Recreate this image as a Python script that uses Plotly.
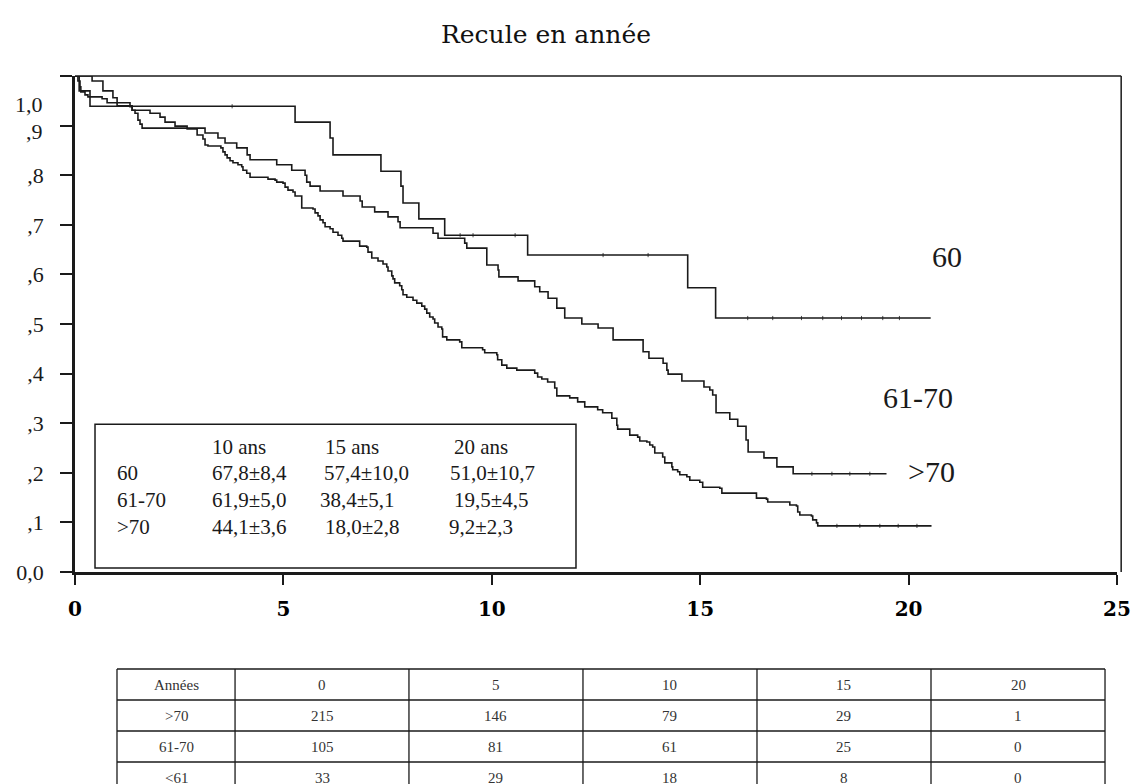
import plotly.graph_objects as go

# ---------------- data ----------------
# group "60" (<61 ans)
t_60 = [0.10, 0.36, 5.28, 6.12, 6.19, 7.34, 7.82, 7.87, 8.25, 8.87, 10.86, 14.70, 15.37]
s_60 = [0.970, 0.939, 0.907, 0.875, 0.841, 0.808, 0.778, 0.744, 0.712, 0.679, 0.639, 0.573, 0.512]
end_60 = 20.53
cens_60 = [3.77, 9.24, 9.55, 10.56, 12.67, 13.75, 16.14, 16.74, 17.43, 17.94, 18.39, 18.87, 19.38, 19.78]

# group "61-70"
t_6170 = [0.41, 0.67, 0.91, 1.01, 1.32, 1.37, 1.44, 1.51, 1.56, 1.61, 3.12, 3.43, 3.60, 3.88, 4.13,
          4.20, 4.84, 5.20, 5.52, 5.56, 5.64, 5.88, 6.43, 6.84, 6.89, 7.19, 7.51, 7.75, 7.80, 8.59,
          8.71, 9.35, 9.40, 9.88, 10.15, 10.17, 10.63, 11.03, 11.15, 11.35, 11.56, 11.75, 12.16, 12.55,
          12.91, 13.63, 13.77, 14.11, 14.20, 14.23, 14.56, 15.09, 15.23, 15.30, 15.38, 15.71, 15.90,
          16.10, 16.15, 16.53, 16.84, 17.23]
s_6170 = [0.990, 0.970, 0.956, 0.946, 0.938, 0.931, 0.925, 0.911, 0.903, 0.895, 0.885, 0.875, 0.865,
          0.855, 0.841, 0.831, 0.821, 0.810, 0.800, 0.786, 0.778, 0.768, 0.758, 0.748, 0.736, 0.726,
          0.716, 0.706, 0.694, 0.683, 0.673, 0.663, 0.653, 0.619, 0.609, 0.595, 0.587, 0.575, 0.565,
          0.552, 0.532, 0.512, 0.500, 0.492, 0.468, 0.444, 0.431, 0.421, 0.407, 0.399, 0.385, 0.373,
          0.367, 0.357, 0.321, 0.308, 0.294, 0.266, 0.242, 0.230, 0.212, 0.198]
end_6170 = 19.47
cens_6170 = [17.68, 18.16, 18.59, 19.07]

# group ">70"
t_70 = [0.07, 0.12, 0.14, 0.24, 0.31, 0.65, 0.77, 1.01, 1.37, 1.80,
        2.04, 2.16, 2.40, 2.69, 2.93, 3.07, 3.12, 3.19, 3.50, 3.55,
        3.60, 3.65, 3.72, 3.79, 3.91, 4.00, 4.03, 4.12, 4.20, 4.63,
        4.80, 4.84, 4.99, 5.04, 5.11, 5.23, 5.28, 5.44, 5.71, 5.76,
        5.83, 5.88, 5.95, 6.00, 6.12, 6.19, 6.31, 6.40, 6.43, 6.83,
        7.00, 7.03, 7.12, 7.27, 7.39, 7.48, 7.51, 7.60, 7.63, 7.67,
        7.79, 7.84, 7.87, 7.96, 8.11, 8.20, 8.32, 8.39, 8.44, 8.51,
        8.59, 8.63, 8.71, 8.80, 8.82, 8.92, 9.23, 9.28, 9.78, 9.83,
        10.12, 10.14, 10.24, 10.36, 10.60, 11.03, 11.10, 11.20, 11.34, 11.51,
        11.56, 11.87, 12.06, 12.23, 12.54, 12.66, 12.88, 13.00, 13.02, 13.31,
        13.50, 13.55, 13.72, 13.79, 13.86, 13.91, 14.10, 14.15, 14.32, 14.34,
        14.46, 14.51, 14.68, 14.75, 14.99, 15.06, 15.47, 15.52, 16.35, 16.59,
        16.62, 17.15, 17.31, 17.34, 17.39, 17.67, 17.70, 17.79, 17.82]
s_70 = [0.990, 0.978, 0.968, 0.962, 0.958, 0.954, 0.946, 0.940, 0.931, 0.925,
        0.917, 0.907, 0.899, 0.893, 0.881, 0.873, 0.861, 0.859, 0.855, 0.847,
        0.841, 0.835, 0.829, 0.825, 0.821, 0.817, 0.810, 0.804, 0.796, 0.792,
        0.790, 0.786, 0.784, 0.776, 0.770, 0.766, 0.758, 0.734, 0.732, 0.724,
        0.718, 0.710, 0.704, 0.696, 0.692, 0.685, 0.679, 0.673, 0.667, 0.657,
        0.655, 0.645, 0.633, 0.627, 0.621, 0.615, 0.607, 0.597, 0.591, 0.583,
        0.577, 0.569, 0.559, 0.554, 0.548, 0.542, 0.536, 0.530, 0.522, 0.514,
        0.510, 0.502, 0.494, 0.490, 0.474, 0.468, 0.464, 0.452, 0.448, 0.442,
        0.438, 0.428, 0.417, 0.411, 0.407, 0.401, 0.393, 0.389, 0.383, 0.371,
        0.355, 0.351, 0.343, 0.333, 0.327, 0.321, 0.310, 0.296, 0.288, 0.276,
        0.272, 0.264, 0.262, 0.256, 0.252, 0.240, 0.232, 0.220, 0.212, 0.206,
        0.202, 0.196, 0.192, 0.185, 0.181, 0.171, 0.169, 0.159, 0.149, 0.147,
        0.141, 0.135, 0.133, 0.121, 0.115, 0.113, 0.105, 0.099, 0.093]
end_70 = 20.55
cens_70 = [18.28, 18.83, 19.31, 19.75, 20.20]

# inset box (survival estimates)
inset_groups = ["60", "61-70", ">70"]
inset_horizons = ["10 ans", "15 ans", "20 ans"]
est_10 = ["67,8±8,4", "61,9±5,0", "44,1±3,6"]
est_15 = ["57,4±10,0", "38,4±5,1", "18,0±2,8"]
est_20 = ["51,0±10,7", "19,5±4,5", "9,2±2,3"]

# number-at-risk table
risk_header = "Années"
risk_years = [0, 5, 10, 15, 20]
risk_labels = [">70", "61-70", "<61"]
risk_gt70 = [215, 146, 79, 29, 1]
risk_6170 = [105, 81, 61, 25, 0]
risk_lt61 = [33, 29, 18, 8, 0]

x_ticks = [0, 5, 10, 15, 20, 25]
y_ticks = [0.0, 0.1, 0.2, 0.3, 0.4, 0.5, 0.6, 0.7, 0.8, 0.9, 1.0]
y_ticktext = ["0,0", ",1", ",2", ",3", ",4", ",5", ",6", ",7", ",8", "", ""]

# ---------------- figure ----------------
INK = "#1a1a1a"
fig = go.Figure()


def km_trace(times, surv, end):
    xs = [0] + list(times) + [end]
    ys = [1.0] + list(surv) + [surv[-1]]
    return go.Scatter(x=xs, y=ys, mode="lines", line=dict(shape="hv", color=INK, width=1.6),
                      cliponaxis=False, hoverinfo="skip")


def step_value(times, surv, t):
    v = 1.0
    for ti, si in zip(times, surv):
        if ti <= t:
            v = si
    return v


for times, surv, end, cens in [(t_60, s_60, end_60, cens_60),
                               (t_6170, s_6170, end_6170, cens_6170),
                               (t_70, s_70, end_70, cens_70)]:
    fig.add_trace(km_trace(times, surv, end))
    fig.add_trace(go.Scatter(x=cens, y=[step_value(times, surv, c) for c in cens], mode="markers",
                             marker=dict(symbol="line-ns", size=3, line=dict(color=INK, width=0.8)),
                             hoverinfo="skip", cliponaxis=False))

serif = "Liberation Serif, Times New Roman, serif"
wide_serif = "DejaVu Serif, serif"

annotations = []
# title
annotations.append(dict(text="Recule en année", x=0.452, y=1.083, xref="paper", yref="paper",
                        showarrow=False, font=dict(family=wide_serif, size=25, color="#111"),
                        xanchor="center", yanchor="middle"))
# the "1,0" and ",9" labels sit lower than their ticks in the original
annotations.append(dict(text="1,0", x=-0.029, y=0.942, xref="paper", yref="y", showarrow=False,
                        font=dict(family=serif, size=22, color=INK), xanchor="right", yanchor="middle"))
annotations.append(dict(text=",9", x=-0.029, y=0.889, xref="paper", yref="y", showarrow=False,
                        font=dict(family=serif, size=22, color=INK), xanchor="right", yanchor="middle"))
# curve labels
for txt, xv, yv in [("60", 20.92, 0.637), ("61-70", 20.23, 0.351), (">70", 20.54, 0.202)]:
    annotations.append(dict(text=txt, x=xv, y=yv, xref="x", yref="y", showarrow=False,
                            font=dict(family=serif, size=30, color=INK), xanchor="center", yanchor="middle"))

# inset box text
row_y = [0.252, 0.1996, 0.145, 0.0907]
col_x = [0.96, 3.24, 5.93, 9.0]
for j, h in enumerate(inset_horizons):
    annotations.append(dict(text=h, x=[3.24, 5.95, 9.05][j], y=row_y[0], xref="x", yref="y", showarrow=False,
                            font=dict(family=serif, size=21, color=INK), xanchor="left", yanchor="middle"))
col_offsets = [[3.24, 3.24, 3.24], [5.93, 5.83, 5.95], [8.95, 9.05, 8.93]]
for i, g in enumerate(inset_groups):
    annotations.append(dict(text=g, x=col_x[0], y=row_y[i + 1], xref="x", yref="y", showarrow=False,
                            font=dict(family=serif, size=21, color=INK), xanchor="left", yanchor="middle"))
    for j, vals in enumerate([est_10, est_15, est_20]):
        annotations.append(dict(text=vals[i], x=col_offsets[j][i], y=row_y[i + 1], xref="x", yref="y",
                                showarrow=False, font=dict(family=serif, size=21, color=INK),
                                xanchor="left", yanchor="middle"))

shapes = []
# inset frame
shapes.append(dict(type="rect", xref="x", yref="y", x0=0.48, x1=12.02, y0=0.008, y1=0.298,
                   line=dict(color=INK, width=1.5), fillcolor="rgba(0,0,0,0)"))
# top & right frame of the plot
shapes.append(dict(type="line", xref="paper", yref="paper", x0=0, x1=1.004, y0=1, y1=1,
                   line=dict(color=INK, width=1.5)))
shapes.append(dict(type="line", xref="paper", yref="paper", x0=1.004, x1=1.004, y0=0, y1=1,
                   line=dict(color=INK, width=1.5)))

# number-at-risk table (paper coordinates below the plot)
col_edges = [0.0403, 0.1536, 0.3205, 0.4875, 0.6545, 0.8215, 0.9885]
row_edges = [-0.1956, -0.2581, -0.3206, -0.3831, -0.4456]
for xe in col_edges:
    shapes.append(dict(type="line", xref="paper", yref="paper", x0=xe, x1=xe,
                       y0=row_edges[0], y1=row_edges[-1], line=dict(color=INK, width=1.3)))
for ye in row_edges:
    shapes.append(dict(type="line", xref="paper", yref="paper", x0=col_edges[0], x1=col_edges[-1],
                       y0=ye, y1=ye, line=dict(color=INK, width=1.3)))

table_rows = [[risk_header] + [str(v) for v in risk_years],
              [risk_labels[0]] + [str(v) for v in risk_gt70],
              [risk_labels[1]] + [str(v) for v in risk_6170],
              [risk_labels[2]] + [str(v) for v in risk_lt61]]
for r, row in enumerate(table_rows):
    yc = (row_edges[r] + row_edges[r + 1]) / 2
    for c, txt in enumerate(row):
        xc = (col_edges[c] + col_edges[c + 1]) / 2
        annotations.append(dict(text=txt, x=xc, y=yc, xref="paper", yref="paper", showarrow=False,
                                font=dict(family=serif, size=15, color="#333"),
                                xanchor="center", yanchor="middle"))

# the page adds an 8px body margin, compensated here
fig.update_layout(
    width=1144, height=784,
    margin=dict(l=67, r=35, t=68, b=220, autoexpand=False),
    paper_bgcolor="white", plot_bgcolor="white",
    showlegend=False,
    annotations=annotations,
    shapes=shapes,
    xaxis=dict(range=[0, 25], tickvals=x_ticks, ticktext=[str(v) for v in x_ticks],
               ticks="outside", ticklen=10, tickwidth=1.5, tickcolor=INK, automargin=False,
               showline=True, linewidth=2.5, linecolor=INK, showgrid=False, zeroline=False,
               tickfont=dict(family=wide_serif, size=20, color="#000", weight="bold"), ticklabelstandoff=7),
    yaxis=dict(range=[0, 1], tickvals=y_ticks, ticktext=y_ticktext, automargin=False,
               ticks="outside", ticklen=12, tickwidth=1.5, tickcolor=INK,
               showline=True, linewidth=2.5, linecolor=INK, showgrid=False, zeroline=False,
               tickfont=dict(family=serif, size=22, color=INK), ticklabelstandoff=12),
)

fig.write_html("out.html")
